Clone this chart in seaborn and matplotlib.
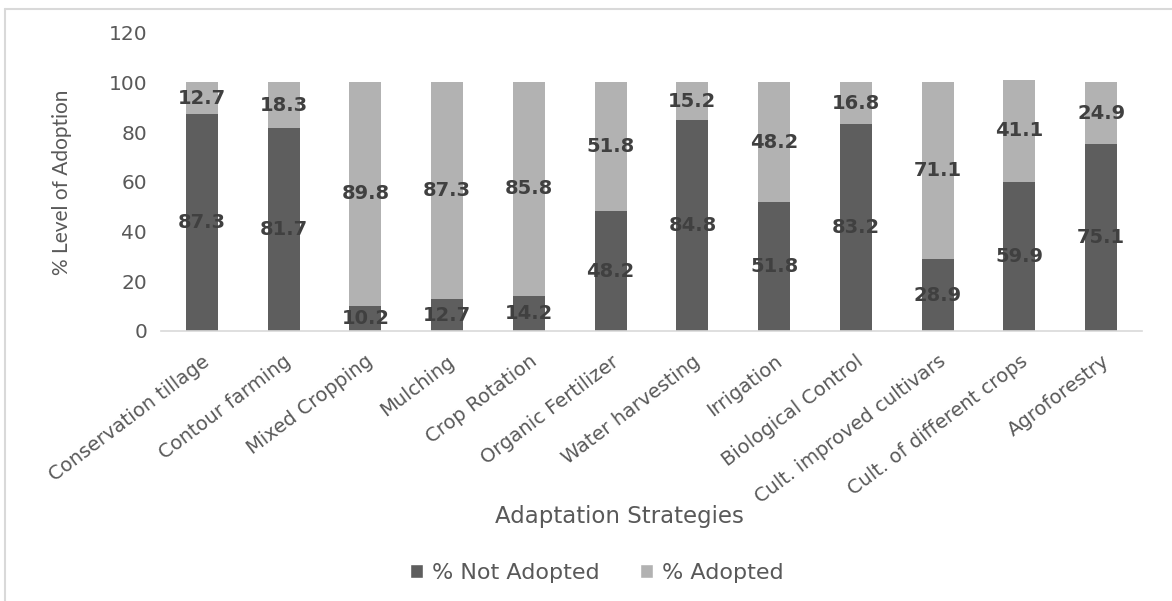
import matplotlib
matplotlib.use("Agg")
import matplotlib.pyplot as plt
import seaborn as sns
import pandas as pd
from matplotlib.patches import Patch
from matplotlib.lines import Line2D

# Adoption of climate adaptation strategies (%)
strategies = [
    "Conservation tillage", "Contour farming", "Mixed Cropping", "Mulching",
    "Crop Rotation", "Organic Fertilizer", "Water harvesting", "Irrigation",
    "Biological Control", "Cult. improved cultivars", "Cult. of different crops",
    "Agroforestry",
]
not_adopted = [87.3, 81.7, 10.2, 12.7, 14.2, 48.2, 84.8, 51.8, 83.2, 28.9, 59.9, 75.1]
adopted = [12.7, 18.3, 89.8, 87.3, 85.8, 51.8, 15.2, 48.2, 16.8, 71.1, 41.1, 24.9]
y_ticks = [0, 20, 40, 60, 80, 100, 120]

DARK = "#5e5e5e"
LIGHT = "#b2b2b2"
TEXT = "#595959"
LABEL = "#404040"

sns.set_theme(style="white")
plt.rcParams["font.family"] = ["DejaVu Sans"]

df = pd.DataFrame({
    "strategy": strategies,
    "not_adopted": not_adopted,
    "adopted": adopted,
})
df["total"] = df["not_adopted"] + df["adopted"]

fig = plt.figure(figsize=(11.72, 6.01), dpi=100)
ax = fig.add_axes([161 / 1172, 1 - 331 / 601, (1142 - 161) / 1172, (331 - 32.5) / 601])

# stacked bars: full height in light grey, lower segment in dark grey
sns.barplot(data=df, x="strategy", y="total", color=LIGHT, width=0.39,
            saturation=1, ax=ax, linewidth=0)
sns.barplot(data=df, x="strategy", y="not_adopted", color=DARK, width=0.39,
            saturation=1, ax=ax, linewidth=0)

# segment value labels
for i, (n, a) in enumerate(zip(not_adopted, adopted)):
    ax.text(i, n / 2, f"{n:.1f}", ha="center", va="center",
            fontsize=14, fontweight="bold", color=LABEL)
    ax.text(i, n + a / 2, f"{a:.1f}", ha="center", va="center",
            fontsize=14, fontweight="bold", color=LABEL)

ax.set_ylim(0, 120)
ax.set_xlim(-0.5, len(strategies) - 0.5)
ax.set_yticks(y_ticks)
ax.set_yticklabels([str(t) for t in y_ticks], fontsize=14.5, color=TEXT)
ax.set_xticks(range(len(strategies)))
ax.set_xticklabels(strategies, rotation=37, ha="right", rotation_mode="anchor",
                   fontsize=14, color=TEXT)
ax.tick_params(axis="both", length=0)
ax.tick_params(axis="x", pad=15)
ax.tick_params(axis="y", pad=10)

ax.set_xlabel("")
ax.set_ylabel("")
fig.text(62 / 1172, 1 - 182 / 601, "% Level of Adoption", rotation=90,
         ha="center", va="center", fontsize=15, color=TEXT, family="Lato")
fig.text(619 / 1172, 1 - 517 / 601, "Adaptation Strategies",
         ha="center", va="center", fontsize=16.5, color=TEXT)

for side in ["top", "right", "left"]:
    ax.spines[side].set_visible(False)
ax.spines["bottom"].set_color("#d9d9d9")
ax.spines["bottom"].set_linewidth(1.2)

handles = [Patch(facecolor=DARK, label="% Not Adopted"),
           Patch(facecolor=LIGHT, label="% Adopted")]
fig.legend(handles=handles, loc="center", bbox_to_anchor=(597 / 1172, 1 - 573 / 601),
           ncol=2, frameon=False, fontsize=16, labelcolor=TEXT,
           handlelength=0.6, handleheight=0.6, handletextpad=0.4, columnspacing=1.8)

# outer chart border (top and left edges)
border = "#d9d9d9"
fig.add_artist(Line2D([5 / 1172, 1.0], [1 - 9 / 601, 1 - 9 / 601],
                      transform=fig.transFigure, color=border, linewidth=1.5))
fig.add_artist(Line2D([5 / 1172, 5 / 1172], [0.0, 1 - 9 / 601],
                      transform=fig.transFigure, color=border, linewidth=1.5))

fig.savefig("out.png", dpi=100)
